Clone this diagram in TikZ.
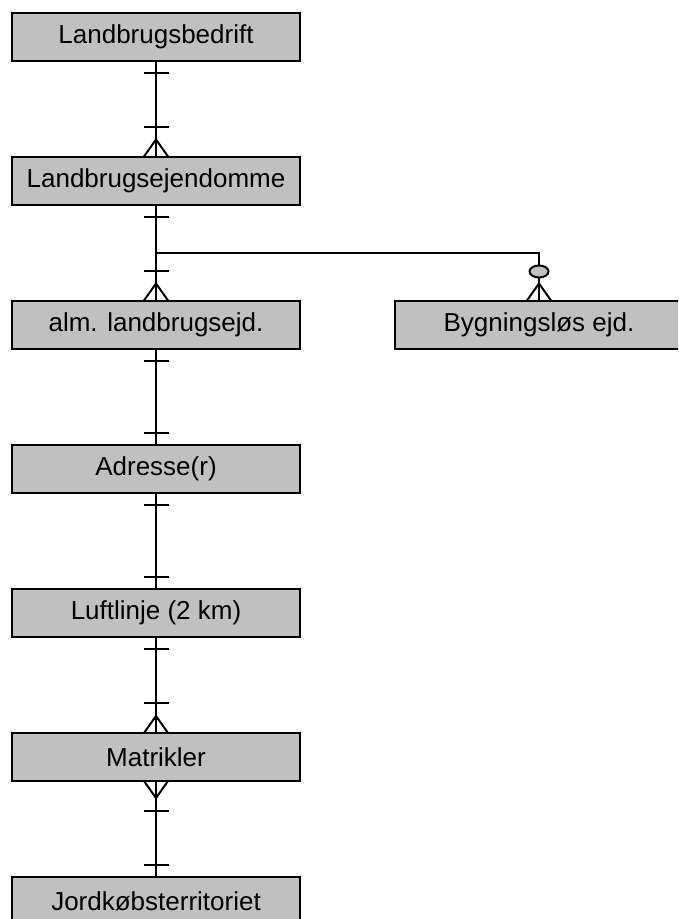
\documentclass[tikz,border=0pt]{standalone}
\usepackage{fontspec}
\setmainfont{Liberation Sans}
\begin{document}
\begin{tikzpicture}[x=1pt,y=-1pt,line width=2pt,
  entity/.style={draw=black,fill=boxgray,minimum width=288pt,minimum height=48pt,
    inner sep=0pt,outer sep=0pt,font=\fontsize{26}{30}\selectfont},
  erone/.pic={\draw (-12.5,12) -- (12.5,12);},
  ermany/.pic={\draw[line join=miter] (-12,0) -- (0,17) -- (12,0);
               \draw (-12.5,30) -- (12.5,30);},
  erzeromany/.pic={\draw[line join=miter] (-12,0) -- (0,17) -- (12,0);
                   \draw[fill=boxgray] (0,29) ellipse (9.5pt and 6pt);}
]
\definecolor{boxgray}{RGB}{192,192,192}
\useasboundingbox (0,0) rectangle (678,919);
\clip (0,0) rectangle (678,919);

% entities
\node[entity] (bedrift) at (156,37) {Landbrugsbedrift};
\node[entity] (ejendom) at (156,180.5) {Landbrugsejendomme};
\node[entity] (alm)     at (156,324.5) {alm. landbrugsejd.};
\node[entity] (byg)     at (539,324.5) {Bygningsløs ejd.};
\node[entity] (adr)     at (156,469) {Adresse(r)};
\node[entity] (luft)    at (156,613) {Luftlinje (2 km)};
\node[entity] (matr)    at (156,757) {Matrikler};
\node[entity] (jord)    at (156,901) {Jordkøbsterritoriet};

\coordinate (fork) at (156,253);

% relationships
\draw (bedrift.south) -- (ejendom.north);
\pic at (bedrift.south) {erone};
\pic[rotate=180] at (ejendom.north) {ermany};

\draw (ejendom.south) -- (alm.north);
\pic at (ejendom.south) {erone};
\pic[rotate=180] at (alm.north) {ermany};

\draw (fork) -| (byg.north);
\pic[rotate=180] at (byg.north) {erzeromany};

\draw (alm.south) -- (adr.north);
\pic at (alm.south) {erone};
\pic[rotate=180] at (adr.north) {erone};

\draw (adr.south) -- (luft.north);
\pic at (adr.south) {erone};
\pic[rotate=180] at (luft.north) {erone};

\draw (luft.south) -- (matr.north);
\pic at (luft.south) {erone};
\pic[rotate=180] at (matr.north) {ermany};

\draw (matr.south) -- (jord.north);
\pic at (matr.south) {ermany};
\pic[rotate=180] at (jord.north) {erone};
\end{tikzpicture}
\end{document}
